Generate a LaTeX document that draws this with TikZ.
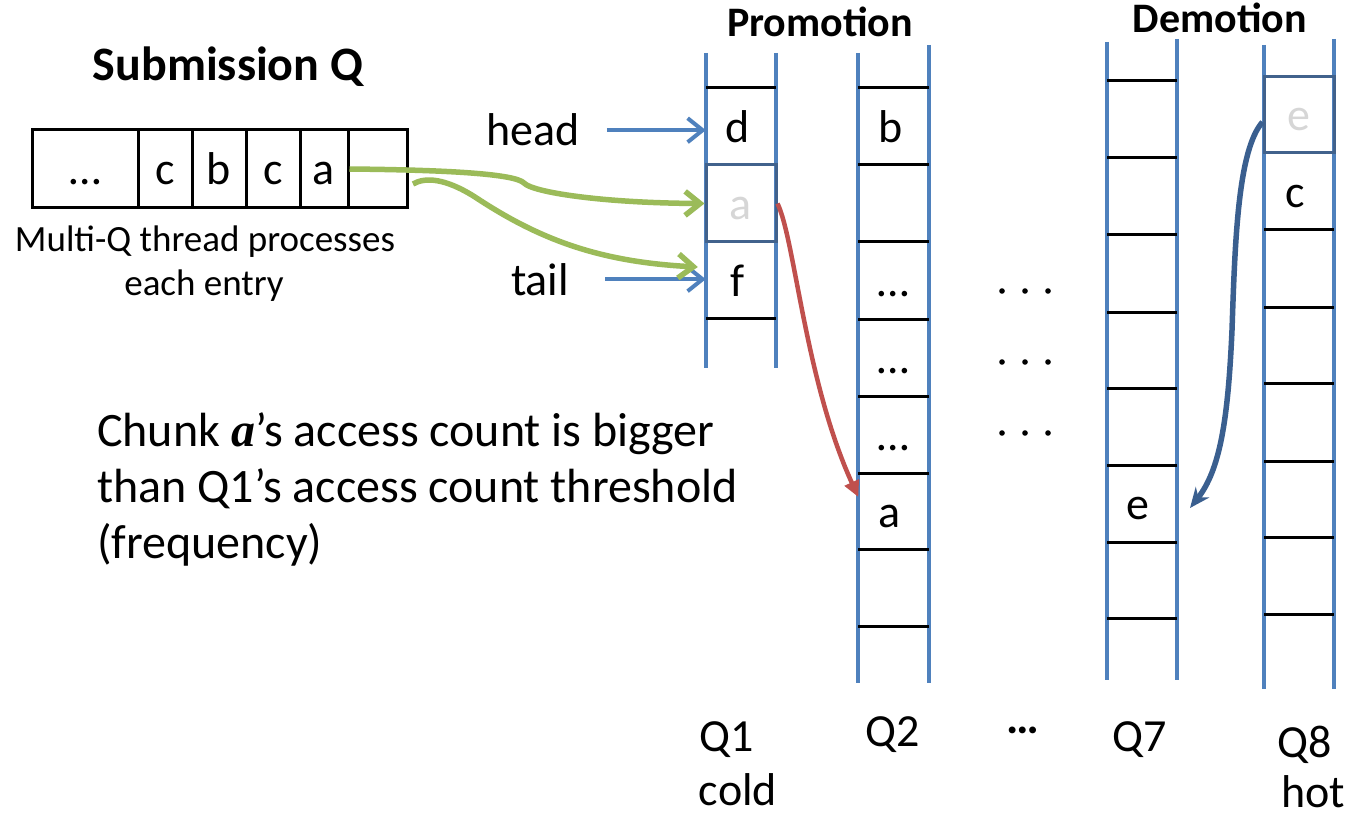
\documentclass[tikz,border=0pt]{standalone}
\usepackage{fontspec}
\setmainfont{Carlito}
\newfontfamily\myserif{Liberation Serif}
\usetikzlibrary{arrows.meta}
\definecolor{colblue}{RGB}{79,129,189}
\definecolor{boxblue}{RGB}{65,98,140}
\definecolor{arrdark}{RGB}{58,95,143}
\definecolor{garrow}{RGB}{155,187,89}
\definecolor{rarrow}{RGB}{192,80,77}
\definecolor{ghost}{RGB}{214,214,214}
\newcommand\fbig{\fontsize{46}{55}\selectfont}
\newcommand\ftext{\fontsize{48}{56}\selectfont}
\newcommand\fsmall{\fontsize{37}{43}\selectfont}
\newcommand\ftitle{\fontsize{42}{50}\selectfont\bfseries}
\newcommand\fsubtitle{\fontsize{48}{56}\selectfont\bfseries}
\begin{document}
\begin{tikzpicture}[x=1pt,y=-1pt,
  every node/.style={inner sep=0pt, font=\fbig},
  qline/.style={colblue, line width=3.6pt},
  hline/.style={black, line width=3pt},
  cell/.style={minimum width=70pt, minimum height=77pt, text height=32pt, text depth=0pt},
  hotbox/.style={draw=boxblue, line width=3pt},
  ghosttext/.style={text=ghost},
  subcell/.style={draw, line width=3pt, minimum height=78pt, text height=32pt, text depth=0pt},
  smalltext/.style={font=\fsmall},
  titletext/.style={font=\ftitle},
  bodytext/.style={font=\ftext, anchor=base west},
  ptr/.style={colblue, line width=4pt, -{Straight Barb[length=15pt,width=24pt]}},
  garr/.style={garrow, line width=5.5pt, -{Straight Barb[length=15pt,width=24pt]}},
  rarr/.style={rarrow, line width=4.5pt, -{Triangle[length=16pt,width=15pt]}},
  darr/.style={arrdark, line width=5.5pt, -{Stealth[length=20pt,width=17pt]}}
]
\fill[white] (0,0) rectangle (1351,818);
\useasboundingbox (0,0) rectangle (1351,818);

% ---------- titles ----------
\node[font=\fsubtitle] (subq) at (228,67) {Submission Q};
\node[titletext] (promo) at (820,22) {Promotion};
\node[titletext] (demo) at (1220,18) {Demotion};

% ---------- submission queue ----------
\node[subcell, minimum width=106pt] (s0) at (85,169) {…};
\node[subcell, minimum width=54pt] (s1) at (165,169) {c};
\node[subcell, minimum width=54pt] (s2) at (219,169) {b};
\node[subcell, minimum width=54pt] (s3) at (273,169) {c};
\node[subcell, minimum width=48pt] (s4) at (324,169) {a};
\node[subcell, minimum width=59pt] (s5) at (377.5,169) {};
\node[smalltext, anchor=base] (multi1) at (205,252) {Multi-Q thread processes};
\node[smalltext, anchor=base] (multi2) at (204,295) {each entry};

% ---------- queue columns ----------
\draw[qline] (706,53) -- (706,368);
\draw[qline] (776,53) -- (776,368);
\draw[qline] (858,53) -- (858,683);
\draw[qline] (929,45) -- (929,683);
\draw[qline] (1107,42) -- (1107,680);
\draw[qline] (1177,39) -- (1177,680);
\draw[qline] (1264,45) -- (1264,689);
\draw[qline] (1334,39) -- (1334,689);

\foreach \y in {88,318} \draw[hline] (706,\y) -- (776,\y);
\foreach \y in {88,165,242,319,396,473,549,626} \draw[hline] (858,\y) -- (929,\y);
\foreach \y in {81,158,235,312,388,465,542,618} \draw[hline] (1107,\y) -- (1177,\y);
\foreach \y in {230,307,383,461,537,614} \draw[hline] (1264,\y) -- (1334,\y);

% ---------- cells ----------
\node[cell] (q1d) at (741,126.5) {\hspace*{-6pt}d};
\node[cell, hotbox, ghosttext] (q1a) at (741,203.5) {a};
\node[cell] (q1f) at (741,280) {\hspace*{-6pt}f};

\node[cell] (q2b) at (893.5,126.5) {\hspace*{-6pt}b};
\node[cell] (q2x1) at (893.5,280.5) {…};
\node[cell] (q2x2) at (893.5,357.5) {…};
\node[cell] (q2x3) at (893.5,434.5) {…};
\node[cell] (q2a) at (893.5,511) {\hspace*{-8pt}a};

\node[cell] (q7e) at (1142,503.5) {\hspace*{-8pt}e};

\node[cell, hotbox, ghosttext, minimum height=76pt] (q8e) at (1299,115) {e};
\node[cell] (q8c) at (1299,191.5) {\hspace*{-8pt}c};

% ---------- dots between columns ----------
\foreach \y in {291,362,433}
  \foreach \x in {1002,1025,1048}
    \fill (\x,\y) circle (2.8pt);

% ---------- pointers ----------
\node[anchor=base] (head) at (533,146) {head};
\node[anchor=base] (tail) at (540,295) {tail};
\draw[ptr] ([xshift=27pt]head.east) -- (q1d.west |- head.east);
\draw[ptr] ([xshift=36pt]tail.east) -- (q1f.west |- tail.east);

% ---------- green arrows ----------
\coordinate (g2s) at (413,184);
\draw[garr] (s4.east) .. controls (450,170) and (515,174) .. (524,183)
  .. controls (532,192) and (600,203) .. (q1a.west);
\draw[garr] (g2s) .. controls (425,177) and (445,178) .. (475,197)
  .. controls (540,240) and (600,262) .. ([xshift=-8pt,yshift=13pt]q1f.west);

% ---------- promotion / demotion arrows ----------
\draw[rarr] (q1a.east) .. controls (795,240) and (805,380) .. ([yshift=14pt]q2a.west);
\coordinate (dend) at (1190,508);
\draw[darr] ([yshift=-7pt]q8e.west) .. controls (1238,150) and (1235,240) .. (1232,330)
  .. controls (1228,420) and (1220,470) .. (dend);

% ---------- explanation ----------
\node[bodytext] (chunk1) at (97,446) {Chunk {\myserif\bfseries\itshape a}’s access count is bigger};
\node[bodytext] (chunk2) at (97,502) {than Q1’s access count threshold};
\node[bodytext] (chunk3) at (97,558) {(frequency)};

% ---------- bottom labels ----------
\node (lq1) at (727,740) {Q1};
\node (lcold) at (738,790) {cold};
\node (lq2) at (893,735) {Q2};
\node[font=\fbig\bfseries] (ldots) at (1023,730) {…};
\node (lq7) at (1140,740) {Q7};
\node (lq8) at (1305,745) {Q8};
\node (lhot) at (1313,792) {hot};
\end{tikzpicture}
\end{document}
